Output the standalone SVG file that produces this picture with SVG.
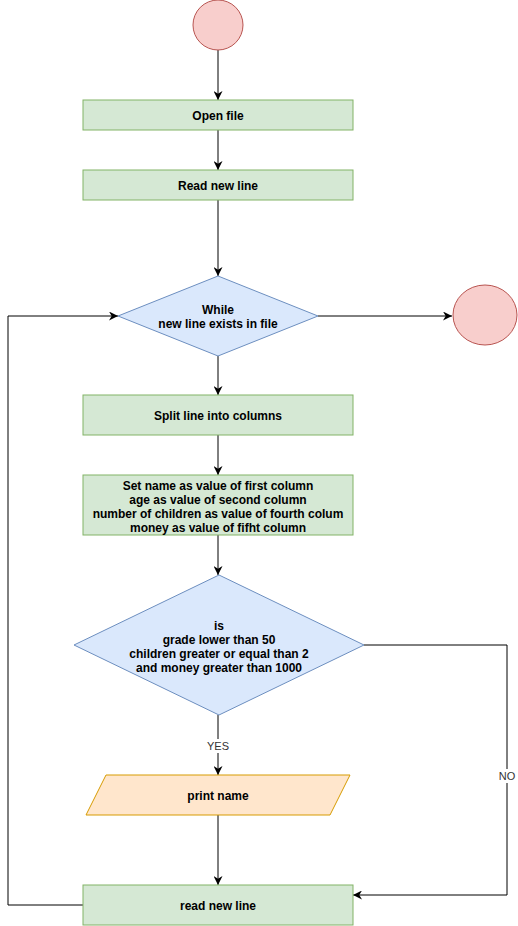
<svg xmlns="http://www.w3.org/2000/svg" width="518" height="926" viewBox="0 0 518 926">
<defs>
<style>
.proc{fill:#d5e8d4;stroke:#82b366;stroke-width:1}
.dec{fill:#dae8fc;stroke:#6c8ebf;stroke-width:1}
.term{fill:#f8cecc;stroke:#b85450;stroke-width:1}
.io{fill:#ffe6cc;stroke:#d79b00;stroke-width:1}
.t{font-family:"Liberation Sans",Arial,sans-serif;font-size:12px;font-weight:bold;fill:#000;text-anchor:middle;dominant-baseline:central}
.lbl{font-family:"Liberation Sans",Arial,sans-serif;font-size:11px;fill:#333;text-anchor:middle;dominant-baseline:central}
.e{fill:none;stroke:#000;stroke-width:1}
</style>
<marker id="arr" viewBox="0 0 10 10" refX="10" refY="5" markerWidth="9" markerHeight="9" markerUnits="userSpaceOnUse" orient="auto">
<path d="M0,0 L10,5 L0,10 L3,5 z" fill="#000"/>
</marker>
</defs>
<g id="connectors">
<path class="e" d="M218,50 V100" marker-end="url(#arr)"/>
<path class="e" d="M218,130 V170" marker-end="url(#arr)"/>
<path class="e" d="M218,200 V276" marker-end="url(#arr)"/>
<path class="e" d="M318,316 H452" marker-end="url(#arr)"/>
<path class="e" d="M218,356 V395" marker-end="url(#arr)"/>
<path class="e" d="M218,435 V475" marker-end="url(#arr)"/>
<path class="e" d="M218,535 V575" marker-end="url(#arr)"/>
<path class="e" d="M218,715 V775" marker-end="url(#arr)"/>
<path class="e" d="M218,815 V885" marker-end="url(#arr)"/>
<path class="e" d="M364,645 H507 V895 H353" marker-end="url(#arr)"/>
<path class="e" d="M83,905 H8 V316 H118" marker-end="url(#arr)"/>
<rect x="205" y="739" width="26" height="14" fill="#fff"/>
<text class="lbl" x="218" y="746">YES</text>
<rect x="497" y="769" width="20" height="14" fill="#fff"/>
<text class="lbl" x="507" y="776">NO</text>
</g>
<g id="start"><circle class="term" cx="218" cy="25" r="25"/></g>
<g id="open-file"><rect class="proc" x="83" y="100" width="270" height="30"/><text class="t" x="218" y="116">Open file</text></g>
<g id="read-new-line-1"><rect class="proc" x="83" y="170" width="270" height="30"/><text class="t" x="218" y="186">Read new line</text></g>
<g id="while"><polygon class="dec" points="218,276 318,316 218,356 118,316"/><text class="t" x="218" y="310">While</text><text class="t" x="218" y="324">new line exists in file</text></g>
<g id="end"><ellipse class="term" cx="485" cy="315" rx="32" ry="30"/></g>
<g id="split"><rect class="proc" x="83" y="395" width="270" height="40"/><text class="t" x="218" y="416">Split line into columns</text></g>
<g id="set-name"><rect class="proc" x="83" y="475" width="270" height="60"/>
<text class="t" x="218" y="486">Set name as value of first column</text>
<text class="t" x="218" y="500">age as value of second column</text>
<text class="t" x="218" y="514">number of children as value of fourth colum</text>
<text class="t" x="218" y="528">money as value of fifht column</text></g>
<g id="condition"><polygon class="dec" points="219,575 364,645 219,715 74,645"/>
<text class="t" x="219" y="626">is</text>
<text class="t" x="219" y="640">grade lower than 50</text>
<text class="t" x="219" y="654">children greater or equal than 2</text>
<text class="t" x="219" y="668">and money greater than 1000</text></g>
<g id="print-name"><polygon class="io" points="106,775 350,775 330,815 86,815"/><text class="t" x="218" y="796">print name</text></g>
<g id="read-new-line-2"><rect class="proc" x="83" y="885" width="270" height="40"/><text class="t" x="218" y="906">read new line</text></g>
</svg>
